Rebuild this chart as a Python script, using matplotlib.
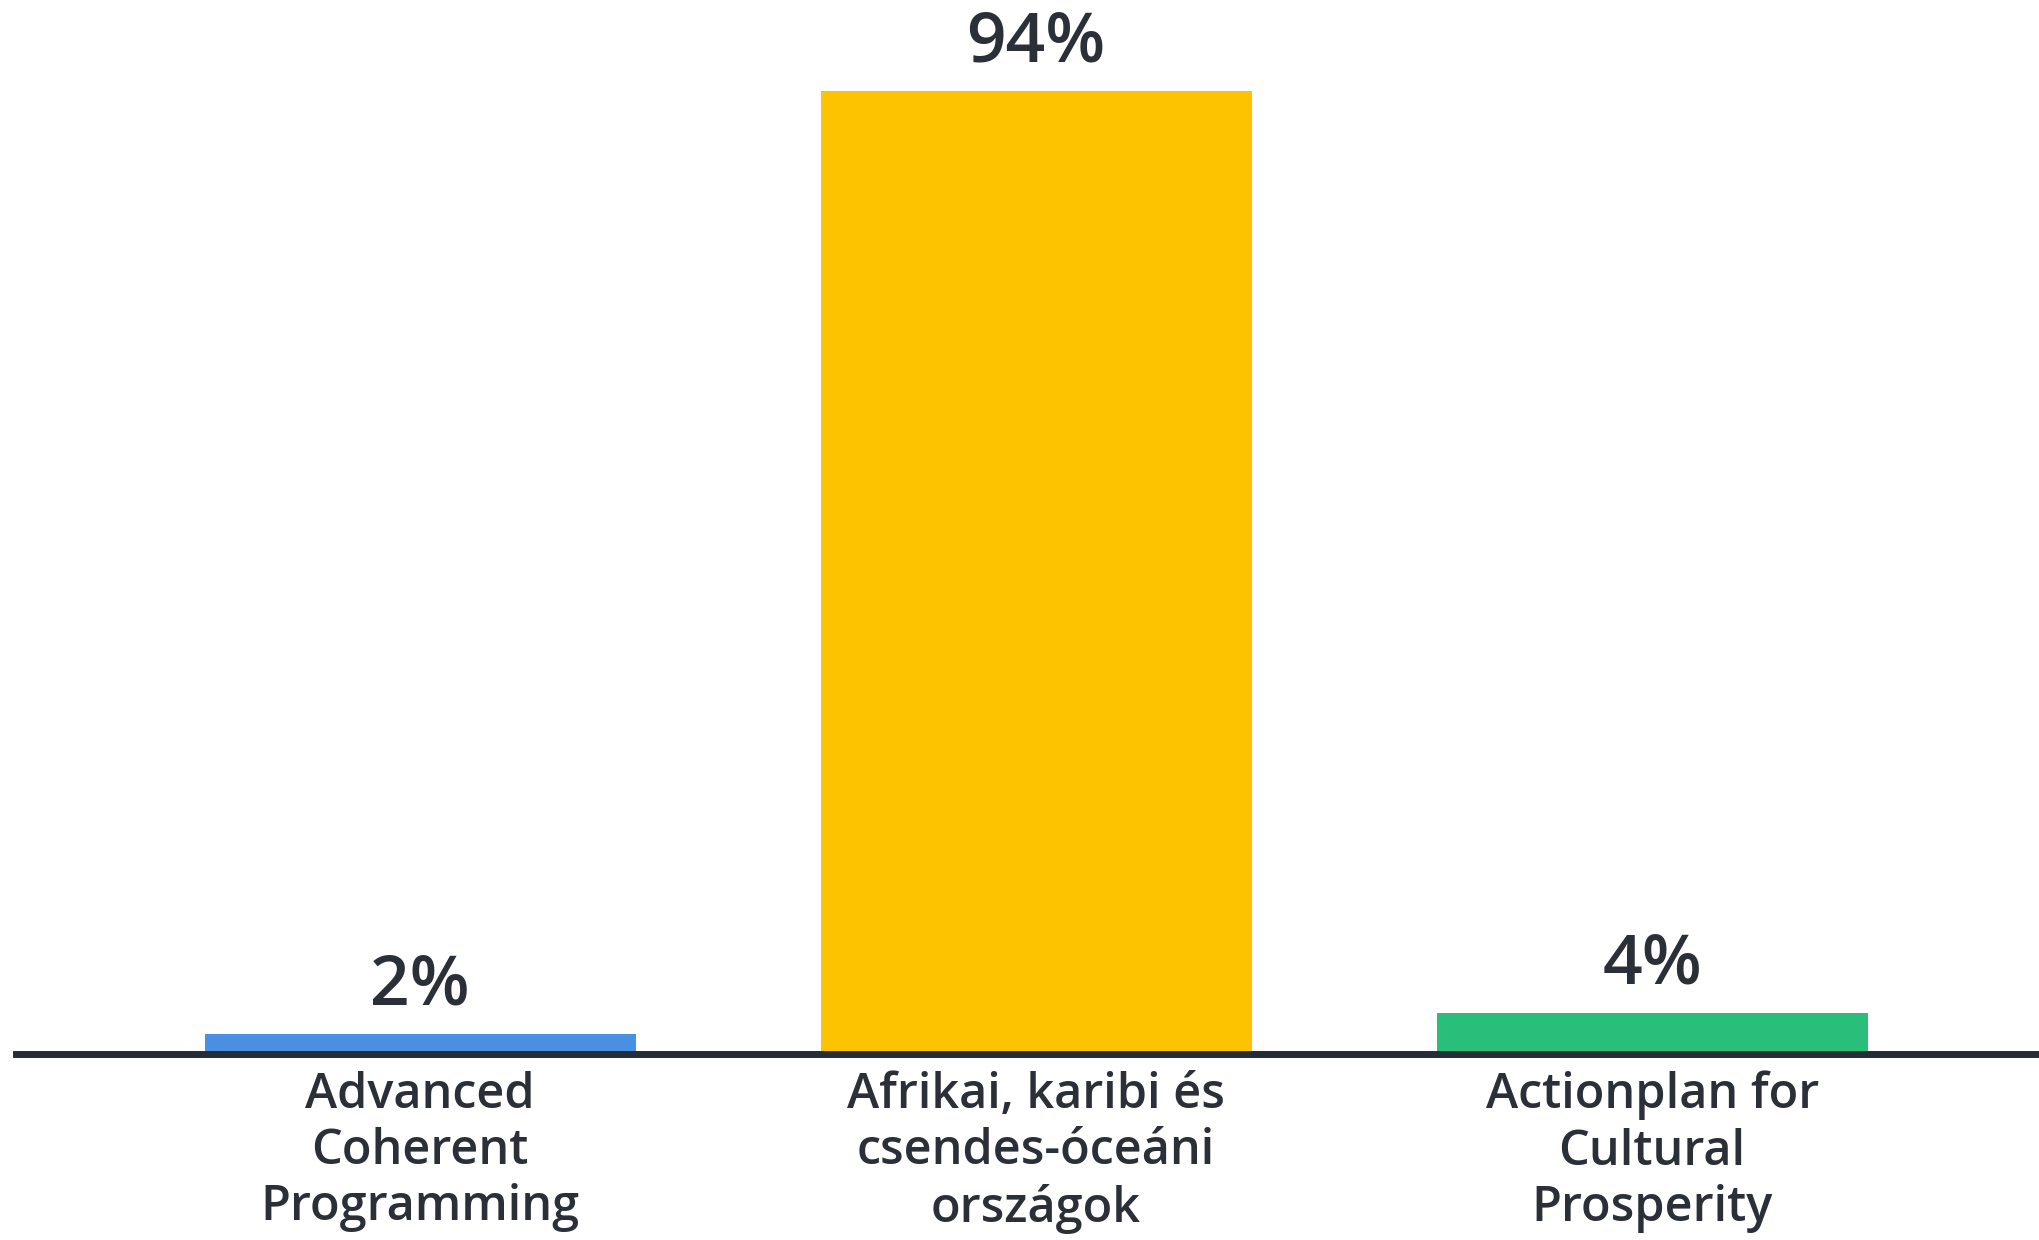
import matplotlib
matplotlib.use("Agg")
import matplotlib.pyplot as plt

# --------------------------
# Data
# --------------------------
categories = [
    "Advanced\nCoherent\nProgramming",
    "Afrikai, karibi és\ncsendes-óceáni\nországok",
    "Actionplan for\nCultural\nProsperity",
]
values = [2, 94, 4]
colors = ["#4a90e2", "#fdc300", "#29bf7a"]

TEXT_COLOR = "#2b2f38"
LINE_COLOR = "#262c36"

plt.rcParams["font.family"] = ["Open Sans", "DejaVu Sans"]

fig = plt.figure(figsize=(20.39, 12.40), dpi=100)
ax = fig.add_axes([16 / 2039, 186 / 1240, (2039 - 16) / 2039, 1024 / 1240])

x = list(range(len(values)))
bars = ax.bar(x, values, width=0.70, color=colors, zorder=2)

ax.set_xlim(-0.656, 2.628)
ax.set_ylim(0, 100)

# value labels
for rect, v in zip(bars, values):
    ax.annotate(
        f"{v}%",
        xy=(rect.get_x() + rect.get_width() / 2, rect.get_height()),
        xytext=(0, 9),
        textcoords="offset points",
        ha="center",
        va="bottom",
        fontsize=50,
        fontweight="semibold",
        color=TEXT_COLOR,
    )

# baseline
for side in ["top", "right", "left"]:
    ax.spines[side].set_visible(False)
ax.spines["bottom"].set_color(LINE_COLOR)
ax.spines["bottom"].set_linewidth(5)
ax.spines["bottom"].set_zorder(3)

ax.set_yticks([])
ax.set_xticks(x)
ax.set_xticklabels(categories, fontsize=35, fontweight="semibold",
                   color=TEXT_COLOR, linespacing=1.2)
ax.tick_params(axis="x", length=0, pad=12)

fig.savefig("out.png", dpi=100, facecolor="white")
